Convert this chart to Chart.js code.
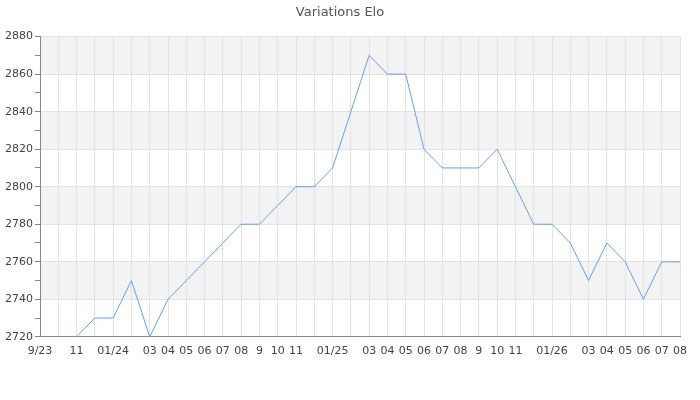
<!DOCTYPE html>
<html>
<head>
<meta charset="utf-8">
<script src="https://cdn.jsdelivr.net/npm/chart.js@4"></script>
<style>
html,body{margin:0;padding:0;background:#fff;}
#wrap{width:700px;height:400px;}
</style>
</head>
<body>
<div id="wrap"><canvas id="c" width="700" height="400"></canvas></div>
<script>
const title = "Variations Elo";
const months = ["9/23","","11","","01/24","","03","04","05","06","07","08","9","10","11","","01/25","","03","04","05","06","07","08","9","10","11","","01/26","","03","04","05","06","07","08"];
const elo = [null,null,2720,2730,2730,2750,2720,2740,2750,2760,2770,2780,2780,2790,2800,2800,2810,2840,2870,2860,2860,2820,2810,2810,2810,2820,2800,2780,2780,2770,2750,2770,2760,2740,2760,2760];
const yMin = 2720, yMax = 2880, yStep = 10, yLabelStep = 20;

const bandPlugin = {
  id: 'bands',
  beforeDraw(chart) {
    const {ctx, chartArea, scales} = chart;
    const y = scales.y;
    ctx.save();
    ctx.fillStyle = '#f3f3f3';
    for (let v = yMin + yLabelStep; v < yMax; v += 2 * yLabelStep) {
      const top = y.getPixelForValue(v + yLabelStep);
      const bot = y.getPixelForValue(v);
      ctx.fillRect(chartArea.left, top, chartArea.right - chartArea.left, bot - top);
    }
    ctx.restore();
  }
};

new Chart(document.getElementById('c'), {
  type: 'line',
  data: {
    labels: months,
    datasets: [{
      data: elo,
      borderColor: '#6a9cf0',
      borderWidth: 1,
      pointRadius: 0,
      tension: 0,
      fill: false,
      spanGaps: false
    }]
  },
  options: {
    responsive: false,
    animation: false,
    layout: {padding: {left: 0, right: 20, top: 0, bottom: 34}},
    plugins: {
      legend: {display: false},
      tooltip: {enabled: false},
      title: {
        display: true,
        text: title,
        color: '#555',
        font: {family: 'DejaVu Sans', size: 13, weight: 'normal'},
        padding: {top: 5, bottom: 16}
      }
    },
    scales: {
      x: {
        offset: false,
        grid: {color: '#e3e3e3', drawTicks: false, lineWidth: 1},
        border: {color: '#888', width: 1},
        ticks: {
          autoSkip: false, maxRotation: 0, minRotation: 0,
          color: '#444', padding: 8,
          font: {family: 'DejaVu Sans', size: 11}
        }
      },
      y: {
        min: yMin, max: yMax,
        afterFit(s) { s.width = 40; },
        grid: {
          color: (c) => (c.tick && (c.tick.value - yMin) % yLabelStep === 0) ? '#e3e3e3' : 'rgba(0,0,0,0)',
          tickColor: '#888',
          tickLength: 5,
          drawTicks: true
        },
        border: {color: '#888', width: 1},
        ticks: {
          stepSize: yStep,
          color: '#444', padding: 2,
          font: {family: 'DejaVu Sans', size: 11},
          callback: (v) => ((v - yMin) % yLabelStep === 0) ? String(v) : ''
        }
      }
    }
  },
  plugins: [bandPlugin]
});
</script>
</body>
</html>
